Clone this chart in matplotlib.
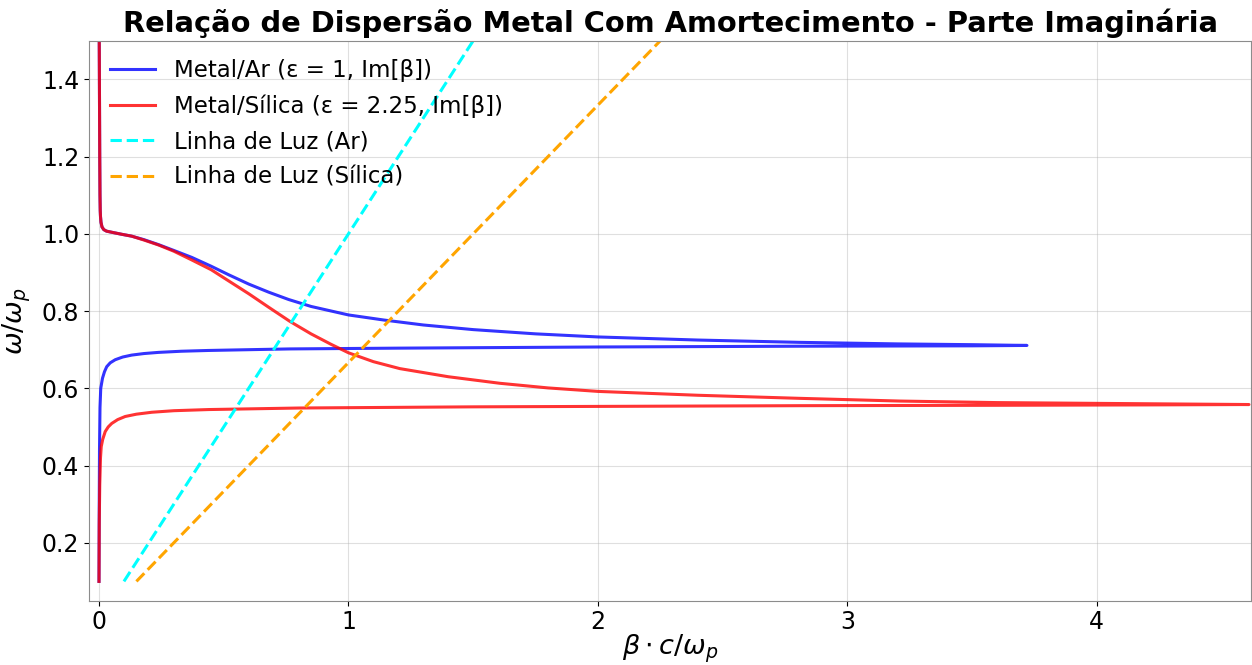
import numpy as np
import matplotlib
matplotlib.use("Agg")
import matplotlib.pyplot as plt

# Metal/Ar branch: (Im[beta]*c/wp, w/wp), ordered along the curve
ar_beta = [0.000, 0.001, 0.002, 0.004, 0.007, 0.014, 0.022, 0.031, 0.045, 0.065,
           0.095, 0.131, 0.18, 0.238, 0.33, 0.438, 0.6, 0.766, 1.2, 2.0, 2.81, 3.5, 3.72,
           3.5, 3.2, 2.81, 2.4, 2.0, 1.75, 1.5, 1.3, 1.14, 1.0, 0.85, 0.76, 0.68,
           0.60, 0.52, 0.45, 0.372, 0.30, 0.239, 0.18, 0.131, 0.09, 0.052, 0.03,
           0.019, 0.012, 0.008, 0.006, 0.005, 0.004, 0.003, 0.002, 0.001]
ar_omega = [0.10, 0.30, 0.44, 0.55, 0.60, 0.626, 0.643, 0.656, 0.666, 0.674,
            0.681, 0.686, 0.690, 0.693, 0.696, 0.698, 0.700, 0.702, 0.704, 0.707, 0.709, 0.710, 0.711,
            0.713, 0.715, 0.719, 0.725, 0.733, 0.741, 0.752, 0.764, 0.777, 0.790, 0.812, 0.830, 0.849,
            0.870, 0.894, 0.916, 0.939, 0.957, 0.972, 0.985, 0.994, 0.999, 1.004, 1.007,
            1.011, 1.018, 1.03, 1.045, 1.06, 1.10, 1.20, 1.35, 1.50]

# Metal/Silica branch
si_beta = [0.000, 0.001, 0.003, 0.006, 0.009, 0.015, 0.025, 0.037, 0.051, 0.075,
           0.105, 0.15, 0.212, 0.3, 0.44, 0.806, 1.5, 2.81, 3.6, 4.2, 4.61,
           4.3, 4.0, 3.6, 3.21, 2.81, 2.4, 2.0, 1.8, 1.607, 1.4, 1.206, 1.1, 1.0,
           0.93, 0.85, 0.766, 0.68, 0.60, 0.52, 0.45, 0.37, 0.30, 0.239, 0.18,
           0.131, 0.09, 0.052, 0.03, 0.019, 0.012, 0.008, 0.006, 0.005, 0.004,
           0.003, 0.002, 0.001]
si_omega = [0.10, 0.25, 0.35, 0.42, 0.449, 0.468, 0.488, 0.500, 0.509, 0.519,
            0.527, 0.533, 0.538, 0.542, 0.545, 0.549, 0.552, 0.555, 0.556, 0.557, 0.558,
            0.5595, 0.561, 0.563, 0.567, 0.574, 0.582, 0.592, 0.601, 0.613, 0.630, 0.651, 0.669, 0.692,
            0.714, 0.741, 0.773, 0.810, 0.845, 0.878, 0.907, 0.933, 0.955, 0.971, 0.984,
            0.994, 0.999, 1.004, 1.007, 1.011, 1.018, 1.03, 1.045, 1.06, 1.10,
            1.20, 1.35, 1.50]

# light lines
luz_ar_beta = [0.10, 1.50]
luz_ar_omega = [0.10, 1.50]
luz_si_beta = [0.15, 2.25]
luz_si_omega = [0.10, 1.50]

fig = plt.figure(figsize=(12.52, 6.65), dpi=100)
ax = fig.add_axes([0.0711, 0.0967, 0.9285, 0.842])

ax.plot(ar_beta, ar_omega, color='b', lw=2.2, alpha=0.8, label='Metal/Ar (ε = 1, Im[β])')
ax.plot(si_beta, si_omega, color='r', lw=2.2, alpha=0.8, label='Metal/Sílica (ε = 2.25, Im[β])')
ax.plot(luz_ar_beta, luz_ar_omega, '--', color='cyan', lw=2.2, label='Linha de Luz (Ar)')
ax.plot(luz_si_beta, luz_si_omega, '--', color='orange', lw=2.2, label='Linha de Luz (Sílica)')

ax.set_xlim(-0.04, 4.62)
ax.set_ylim(0.05, 1.5)
ax.set_xticks([0, 1, 2, 3, 4])
ax.set_yticks([0.2, 0.4, 0.6, 0.8, 1.0, 1.2, 1.4])
ax.tick_params(labelsize=17)
ax.grid(True, alpha=0.4)
for s in ax.spines.values():
    s.set_color('0.55')

ax.set_xlabel(r'$\beta \cdot c/\omega_p$', fontsize=19.5, labelpad=-1)
ax.set_ylabel(r'$\omega/\omega_p$', fontsize=19.5, labelpad=6)
ax.set_title('Relação de Dispersão Metal Com Amortecimento - Parte Imaginária',
             fontsize=20.8, fontweight='bold', pad=6)
ax.legend(loc='upper left', fontsize=16.5, frameon=False, labelspacing=0.55,
          bbox_to_anchor=(0.0, 1.005))

fig.savefig('out.png', dpi=100)
